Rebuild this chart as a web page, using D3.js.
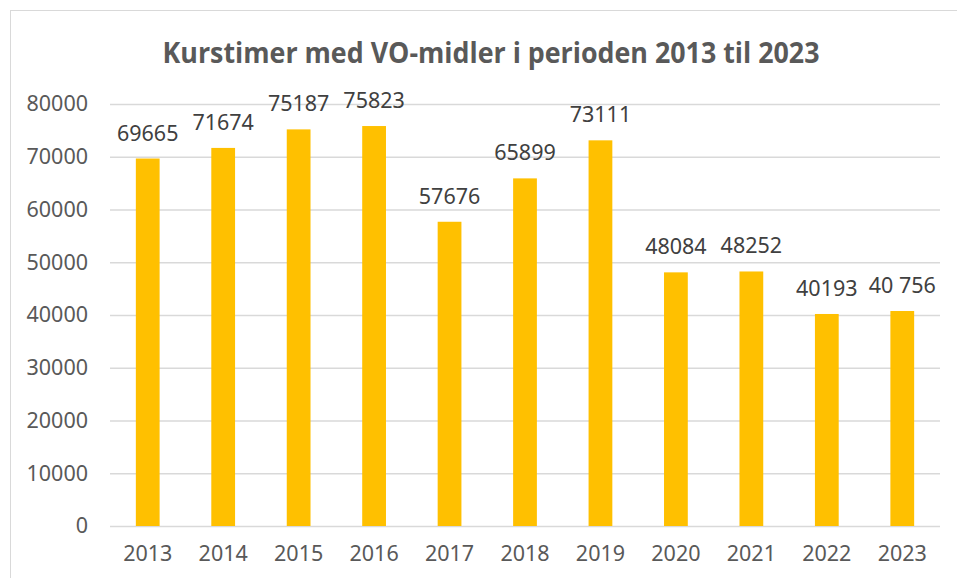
<!DOCTYPE html>
<html>
<head>
<meta charset="utf-8">
<script src="https://cdn.jsdelivr.net/npm/d3@7"></script>
<style>
  body { margin: 0; background: #fff; }
  svg { display: block; }
</style>
</head>
<body>
<script>
// data
var years = ["2013", "2014", "2015", "2016", "2017", "2018", "2019", "2020", "2021", "2022", "2023"];
var hours = [69665, 71674, 75187, 75823, 57676, 65899, 73111, 48084, 48252, 40193, 40756];
var labels = ["69665", "71674", "75187", "75823", "57676", "65899", "73111", "48084", "48252", "40193", "40 756"];
var yTicks = [0, 10000, 20000, 30000, 40000, 50000, 60000, 70000, 80000];
var title = "Kurstimer med VO-midler i perioden 2013 til 2023";

var W = 957, H = 578;
var marges = { top: 104, right: 17, bottom: 52, left: 110 };
var width = W - marges.left - marges.right,
    height = H - marges.top - marges.bottom;

var svg = d3.select("body").append("svg")
  .attr("width", W)
  .attr("height", H);

// chart frame (runs off the page right and bottom)
svg.append("rect")
  .attr("x", 10.5).attr("y", 10.5)
  .attr("width", W + 20).attr("height", H + 20)
  .attr("fill", "none")
  .attr("stroke", "#d9d9d9")
  .attr("stroke-width", 1);

svg.append("text")
  .attr("x", 491).attr("y", 63)
  .attr("text-anchor", "middle")
  .attr("font-family", "'Open Sans', sans-serif")
  .attr("font-weight", "bold")
  .attr("font-size", 29)
  .attr("fill", "#595959")
  .attr("textLength", 657)
  .attr("lengthAdjust", "spacingAndGlyphs")
  .text(title);

var canevas = svg.append("g")
  .attr("transform", "translate(" + marges.left + "," + marges.top + ")");

var x = d3.scaleBand()
  .domain(years)
  .range([0, width])
  .paddingInner(0.685)
  .paddingOuter(0.3425);

var y = d3.scaleLinear()
  .domain([0, 80000])
  .range([height, 0]);

// gridlines
canevas.append("g")
  .call(d3.axisLeft(y).tickValues(yTicks).tickSize(-width).tickFormat(""))
  .call(g => g.select(".domain").remove())
  .call(g => g.selectAll("line").attr("stroke", "#d9d9d9").attr("stroke-width", 1.5));

// y axis labels
canevas.append("g")
  .call(d3.axisLeft(y).tickValues(yTicks).tickSize(0).tickPadding(22).tickFormat(d => String(d)))
  .call(g => g.select(".domain").remove())
  .call(g => g.selectAll("text")
    .attr("font-family", "'Noto Sans', sans-serif")
    .attr("font-size", 21.5)
    .attr("fill", "#595959"));

// x axis labels
canevas.append("g")
  .attr("transform", "translate(0," + height + ")")
  .call(d3.axisBottom(x).tickSize(0).tickPadding(20))
  .call(g => g.select(".domain").remove())
  .call(g => g.selectAll("text")
    .attr("font-family", "'Noto Sans', sans-serif")
    .attr("font-size", 21.5)
    .attr("fill", "#595959"));

// bars
canevas.selectAll("rect.bar")
  .data(hours)
  .enter()
  .append("rect")
  .attr("class", "bar")
  .attr("x", (d, i) => x(years[i]))
  .attr("y", d => y(d))
  .attr("width", x.bandwidth())
  .attr("height", d => height - y(d))
  .attr("fill", "#FFC000");

// data labels
canevas.selectAll("text.lab")
  .data(hours)
  .enter()
  .append("text")
  .attr("class", "lab")
  .attr("x", (d, i) => x(years[i]) + x.bandwidth() / 2)
  .attr("y", d => y(d) - 18)
  .attr("text-anchor", "middle")
  .attr("font-family", "'Noto Sans', sans-serif")
  .attr("font-size", 21.5)
  .attr("fill", "#404040")
  .text((d, i) => labels[i]);
</script>
</body>
</html>
